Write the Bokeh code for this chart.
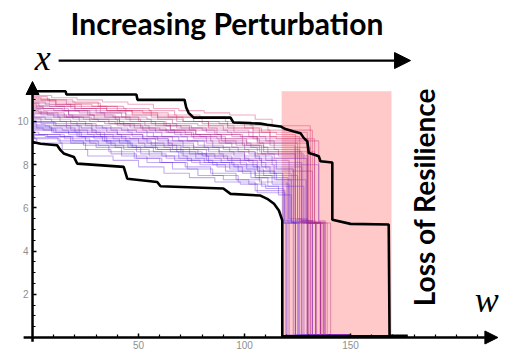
from bokeh.plotting import figure
from bokeh.models import LinearAxis, FixedTicker, Arrow, NormalHead, Label
from bokeh.embed import file_html
from bokeh.resources import INLINE

# ---------------- data ----------------
W_GRID = [0, 12, 24, 36, 48, 60, 72, 84, 96, 108, 116]
RUN_VALUES = [
    [11.2, 11.1, 11.0, 10.9, 10.8, 10.6, 10.5, 10.4, 10.3, 10.1, 9.8],
    [11.1, 11.0, 10.8, 10.7, 10.5, 10.4, 10.2, 10.0, 9.9, 9.7, 9.5],
    [11.0, 10.8, 10.7, 10.5, 10.4, 10.2, 10.0, 9.8, 9.7, 9.5, 9.4],
    [10.9, 10.8, 10.6, 10.4, 10.2, 10.1, 9.9, 9.8, 9.6, 9.3, 9.1],
    [10.8, 10.6, 10.5, 10.3, 10.2, 10.0, 9.8, 9.6, 9.4, 9.3, 9.0],
    [10.75, 10.7, 10.5, 10.4, 10.1, 9.9, 9.7, 9.6, 9.5, 9.2, 8.9],
    [10.7, 10.5, 10.3, 10.2, 10.0, 9.9, 9.6, 9.4, 9.2, 9.0, 8.8],
    [10.6, 10.5, 10.4, 10.2, 10.0, 9.8, 9.7, 9.5, 9.3, 9.1, 8.7],
    [10.5, 10.4, 10.2, 10.0, 9.9, 9.7, 9.5, 9.3, 9.2, 8.9, 8.6],
    [10.45, 10.3, 10.1, 10.0, 9.8, 9.6, 9.4, 9.3, 9.0, 8.8, 8.5],
    [10.4, 10.2, 10.1, 9.9, 9.7, 9.6, 9.4, 9.1, 8.9, 8.7, 8.4],
    [10.3, 10.2, 10.0, 9.8, 9.6, 9.5, 9.3, 9.1, 8.8, 8.6, 8.3],
    [10.2, 10.1, 9.9, 9.7, 9.6, 9.3, 9.1, 8.9, 8.7, 8.5, 8.2],
    [10.1, 10.0, 9.8, 9.7, 9.5, 9.3, 9.1, 8.8, 8.6, 8.4, 8.0],
    [10.0, 9.9, 9.7, 9.5, 9.4, 9.2, 8.9, 8.7, 8.5, 8.2, 7.9],
    [9.95, 9.8, 9.7, 9.5, 9.3, 9.1, 8.8, 8.6, 8.4, 8.2, 7.8],
    [9.9, 9.7, 9.6, 9.4, 9.2, 9.0, 8.8, 8.5, 8.3, 8.0, 7.7],
    [9.8, 9.7, 9.5, 9.3, 9.1, 8.9, 8.6, 8.4, 8.2, 7.9, 7.6],
    [9.7, 9.6, 9.4, 9.2, 9.0, 8.8, 8.6, 8.3, 8.1, 7.8, 7.5],
    [9.6, 9.5, 9.3, 9.1, 8.9, 8.7, 8.5, 8.2, 8.0, 7.7, 7.3],
    [9.5, 9.4, 9.2, 9.0, 8.8, 8.5, 8.3, 8.1, 7.9, 7.6, 7.2],
    [9.4, 9.3, 9.1, 8.9, 8.7, 8.4, 8.2, 8.0, 7.7, 7.4, 7.0],
    [9.3, 9.2, 9.0, 8.7, 8.5, 8.3, 8.1, 7.8, 7.5, 7.2, 6.8],
    [9.25, 9.1, 8.9, 8.6, 8.3, 8.1, 7.9, 7.6, 7.3, 7.0, 6.6],
    [11.05, 10.9, 10.85, 10.6, 10.5, 10.3, 10.2, 10.0, 9.8, 9.6, 9.3],
    [10.55, 10.3, 10.2, 10.1, 9.8, 9.6, 9.5, 9.2, 9.0, 8.7, 8.5],
    [10.0, 9.8, 9.5, 9.3, 9.2, 8.9, 8.7, 8.4, 8.2, 8.0, 7.6],
    [9.35, 9.3, 9.0, 8.8, 8.4, 8.1, 7.8, 7.5, 7.3, 7.1, 6.9],
    [9.2, 9.0, 8.7, 8.4, 8.2, 7.9, 7.6, 7.4, 7.2, 7.1, 6.7],
    [10.95, 10.7, 10.6, 10.5, 10.3, 10.1, 10.0, 9.7, 9.5, 9.3, 9.2],
    [10.65, 10.6, 10.3, 10.1, 9.9, 9.8, 9.6, 9.4, 9.1, 8.9, 8.6],
    [9.75, 9.5, 9.3, 9.1, 8.8, 8.6, 8.3, 8.1, 7.8, 7.5, 7.1],
    [11.15, 11.0, 10.9, 10.7, 10.6, 10.5, 10.3, 10.2, 10.0, 9.8, 9.6],
    [10.85, 10.7, 10.5, 10.3, 10.1, 10.0, 9.8, 9.7, 9.4, 9.2, 9.0],
    [10.35, 10.2, 10.0, 9.9, 9.7, 9.5, 9.3, 9.0, 8.8, 8.5, 8.3],
    [9.85, 9.8, 9.6, 9.4, 9.2, 9.0, 8.7, 8.5, 8.3, 8.1, 7.8],
    [9.55, 9.4, 9.3, 9.1, 8.9, 8.6, 8.4, 8.2, 8.0, 7.7, 7.4],
    [10.85, 10.8, 10.6, 10.5, 10.3, 10.2, 10.0, 9.9, 9.7, 9.5, 9.2],
    [10.15, 10.0, 9.9, 9.6, 9.4, 9.2, 9.0, 8.8, 8.6, 8.3, 8.1],
    [9.65, 9.5, 9.3, 9.0, 8.8, 8.7, 8.4, 8.1, 7.9, 7.6, 7.3],
]
RUN_HUE = [0.1, 0.2, 0.0, 0.3, 0.15, 0.4, 0.25, 0.5, 0.35, 0.6, 0.3, 0.7,
           0.45, 0.8, 0.55, 0.9, 0.6, 1.0, 0.75, 0.85, 0.65, 0.95, 0.8, 0.9,
           0.05, 0.5, 0.7, 0.95, 0.85, 0.2, 0.4, 1.0,
           0.15, 0.35, 0.55, 0.75, 0.9, 0.25, 0.65, 1.0]
# how far (in w) before each grid point a run takes its step
RUN_STEP_LEAD = [3, 8, 1, 6, 10, 4, 7, 2, 9, 5, 0, 11, 6, 3, 8, 1,
                 10, 4, 7, 2, 9, 5, 11, 0, 4, 8, 2, 6, 10, 1, 7, 3,
                 5, 9, 2, 6, 11, 4, 8, 1]
RUN_DROP1_W = [131, 129.6, 124, 135, 129.6, 123.8, 131, 126, 133, 124, 130, 129.6,
               121, 135, 127, 123, 132, 118, 125, 129, 120, 128, 119, 122,
               126, 128, 122, 118.5, 119, 133, 127, 121,
               132, 125, 129, 123, 120.5, 130, 127, 122]
RUN_PLATEAU = [5.3, 5.35, 5.3, 5.4, 5.3, 5.5, 5.3, 5.35, 5.3, 5.45, 5.3, 5.3,
               5.5, 5.3, 5.4, 5.3, 5.35, 5.3, 5.5, 5.3, 5.3, 5.4, 5.3, 5.35,
               5.35, 5.3, 5.3, 5.3, 5.4, 5.3, 5.4, 5.3,
               5.3, 5.35, 5.3, 5.4, 5.3, 5.3, 5.3, 5.35]
RUN_DROP2_W = [137.4, 135.8, 129.6, 138, 133.5, 127, 137, 132, 140.6, 130, 136, 135.8,
               124, 137.4, 133.5, 129.6, 138, 120, 129.6, 135.8, 124, 132, 121, 127,
               131, 134, 126, 119.5, 123, 139, 132, 124,
               136, 130, 133.5, 128, 125, 135.8, 131, 125.5]
RUN_FLOOR = 0.1
RUN_TAIL_END = 150

UPPER_W = [0, 15.6, 16, 49, 49.5, 71.7, 72.5, 73.6, 76, 93.4, 94.8, 107.5, 110.7, 117,
           119.3, 123.3, 126.4, 127.9, 129.6, 130.3, 132.7, 135, 135.8, 141.4, 141.4, 150,
           168, 168.4, 177]
UPPER_X = [11.4, 11.4, 11.25, 11.25, 11.0, 11.0, 10.65, 10.4, 10.18, 10.18, 9.95, 9.9,
           9.85, 9.77, 9.65, 9.54, 9.46, 9.24, 9.08, 8.54, 8.47, 8.39, 8.16, 8.1, 5.45,
           5.26, 5.23, 0.08, 0.08]
LOWER_W = [0, 3.8, 11.6, 13.2, 14.7, 19.5, 21.1, 43, 44.7, 58.8, 60.4, 90, 93.4, 107.5,
           110.7, 113.9, 116.2, 117.8, 117.8, 170]
LOWER_X = [9.05, 8.97, 8.9, 8.67, 8.52, 8.36, 8.05, 7.9, 7.35, 7.2, 7.0, 6.9, 6.65, 6.57,
           6.42, 6.19, 5.88, 5.42, 0.05, 0.05]

ZONE_LEFT, ZONE_RIGHT, ZONE_BOTTOM, ZONE_TOP = 117.5, 169.3, 0, 11.4

X_MAJOR = [50, 100, 150]
X_MINOR = [10, 20, 30, 40, 60, 70, 80, 90, 110, 120, 130, 140, 160, 170, 180, 190, 200, 210]
Y_MAJOR = [2, 4, 6, 8, 10]
Y_MINOR = [0.5, 1, 1.5, 2.5, 3, 3.5, 4.5, 5, 5.5, 6.5, 7, 7.5, 8.5, 9, 9.5, 10.5, 11, 11.5]

TITLE = "Increasing Perturbation"
SIDE_TEXT = "Loss of Resilience"
Y_NAME = "x"
X_NAME = "w"

# ---------------- figure ----------------
p = figure(width=515, height=354, x_range=(-15.1, 227.8), y_range=(-0.787, 15.6),
           output_backend="svg", toolbar_location=None, min_border=0,
           x_axis_location=None, y_axis_location=None)
p.outline_line_color = None
p.grid.visible = False
p.background_fill_color = "white"
p.border_fill_color = "white"

# shaded zone
p.quad(left=[ZONE_LEFT], right=[ZONE_RIGHT], bottom=[ZONE_BOTTOM], top=[ZONE_TOP],
       fill_color="#ffc9c9", line_color=None)


def blend(t):
    r0, g0, b0 = (228, 45, 85)
    r1, g1, b1 = (85, 45, 238)
    r = int(r0 + (r1 - r0) * t)
    g = int(g0 + (g1 - g0) * t)
    b = int(b0 + (b1 - b0) * t)
    return "#%02x%02x%02x" % (r, g, b)


xs_all, ys_all, cols = [], [], []
for vals, hue, lead, d1, pl, d2 in zip(RUN_VALUES, RUN_HUE, RUN_STEP_LEAD,
                                      RUN_DROP1_W, RUN_PLATEAU, RUN_DROP2_W):
    xs, ys = [W_GRID[0]], [vals[0]]
    for w, v in zip(W_GRID[1:], vals[1:]):
        ws = w - lead
        xs += [ws, ws]
        ys += [ys[-1], v]
    last = vals[-1]
    xs += [d1, d1, d2, d2, RUN_TAIL_END]
    ys += [last, pl, pl, RUN_FLOOR, RUN_FLOOR]
    xs_all.append(xs)
    ys_all.append(ys)
    cols.append(blend(hue))

p.multi_line(xs=xs_all, ys=ys_all, line_color=cols, line_alpha=0.4, line_width=1.1)

p.line(UPPER_W, UPPER_X, line_color="black", line_width=2.6)
p.line(LOWER_W, LOWER_X, line_color="black", line_width=2.6)

# axes (ticks & labels) placed at the origin
xaxis = LinearAxis(fixed_location=0,
                   ticker=FixedTicker(ticks=X_MAJOR, minor_ticks=X_MINOR))
yaxis = LinearAxis(fixed_location=0,
                   ticker=FixedTicker(ticks=Y_MAJOR, minor_ticks=Y_MINOR))
for ax in (xaxis, yaxis):
    ax.axis_line_color = None
    ax.major_tick_in = 4
    ax.major_tick_out = 0
    ax.minor_tick_in = 3
    ax.minor_tick_out = 0
    ax.major_tick_line_width = 1.5
    ax.minor_tick_line_width = 1.2
    ax.major_label_text_font = "Liberation Sans"
    ax.major_label_text_font_size = "10px"
    ax.major_label_text_color = "#8f8f8f"
    ax.major_label_standoff = 4
p.add_layout(xaxis, "below")
p.add_layout(yaxis, "left")

# axis arrows
p.add_layout(Arrow(end=NormalHead(size=13, fill_color="black", line_color="black"),
                   x_start=-4.2, y_start=0, x_end=219.5, y_end=0,
                   line_color="black", line_width=2.5))
p.add_layout(Arrow(end=NormalHead(size=13, fill_color="black", line_color="black"),
                   x_start=0, y_start=-0.2, x_end=0, y_end=11.85,
                   line_color="black", line_width=2.5))
# perturbation arrow
p.add_layout(Arrow(end=NormalHead(size=16, fill_color="black", line_color="black"),
                   x_start=12.3, y_start=12.82, x_end=178.3, y_end=12.82,
                   line_color="black", line_width=2.2))

p.add_layout(Label(x=91.7, y=14.55, text=TITLE, text_font="Lato", text_font_style="bold",
                   text_font_size="30px", text_align="center", text_baseline="middle",
                   text_color="black"))
p.add_layout(Label(x=184.5, y=6.5, text=SIDE_TEXT, text_font="Lato", text_font_style="bold",
                   text_font_size="28px", text_align="center", text_baseline="middle",
                   angle=1.5707963, text_color="black"))
p.add_layout(Label(x=4.8, y=12.95, text=Y_NAME, text_font="Liberation Serif",
                   text_font_style="italic", text_font_size="36px", text_align="center",
                   text_baseline="middle", text_color="black"))
p.add_layout(Label(x=214.2, y=1.75, text=X_NAME, text_font="Liberation Serif",
                   text_font_style="italic", text_font_size="36px", text_align="center",
                   text_baseline="middle", text_color="black"))

open("out.html", "w").write(file_html(p, INLINE))
